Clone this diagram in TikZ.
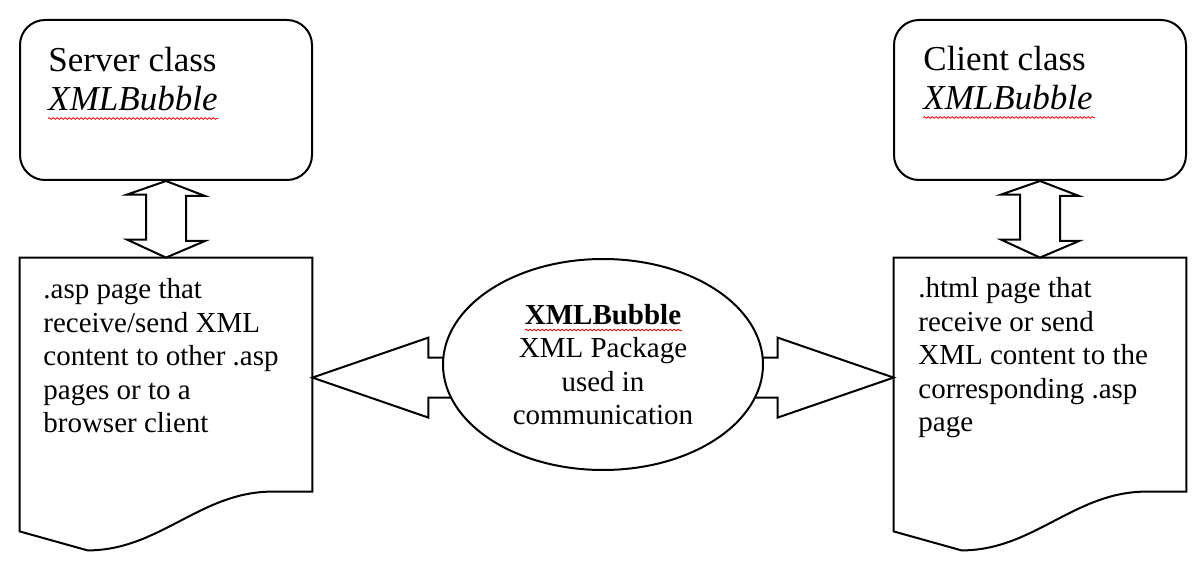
\documentclass[tikz,border=0pt]{standalone}
\usepackage{fontspec}
\setmainfont{Liberation Serif}
\usetikzlibrary{calc,shapes.geometric,decorations.pathmorphing}
\newcommand{\bodysize}{\fontsize{14.5}{16.75}\selectfont}
\newcommand{\titlesize}{\fontsize{17.5}{19.5}\selectfont}
% page outline with the torn bottom edge
\newcommand{\pageoutline}[1]{%
  \draw[frame] (#1.north west) -- (#1.north east) -- ++(0,234) -- ++(-40,0)
    .. controls +(-72,0) and +(72,0) .. ([xshift=34pt]#1.south west)
    -- ([yshift=9.5pt]#1.south west) -- cycle;}

\begin{document}
\begin{tikzpicture}[x=0.5pt,y=-0.5pt,
    frame/.style={draw=black,line width=1pt},
    classbox/.style={frame,rounded corners=12.5pt,minimum width=146pt,minimum height=80pt,inner sep=0pt},
    pagebox/.style={minimum width=146pt,minimum height=146pt,inner sep=0pt},
    blockarrow/.style={frame,fill=white,line join=miter},
    bubble/.style={frame,fill=white,ellipse,minimum width=160pt,minimum height=105.5pt,inner sep=0pt,align=center,font=\bodysize},
    bodytext/.style={anchor=north west,inner sep=0pt,align=left,font=\bodysize},
    titletext/.style={anchor=north west,inner sep=0pt,align=left,font=\titlesize},
    spellmark/.style={draw=red,line width=0.4pt,decorate,decoration={snake,amplitude=0.4pt,segment length=2pt}}]
    \useasboundingbox (0,0) rectangle (1200,577);

    \node[classbox] (srvbox) at (166,100) {};
    \node[classbox] (clibox) at (1040,100) {};
    \node[titletext] (srvtitle) at (48,47) {Server class\\\textit{XMLBubble}};
    \node[titletext] (clititle) at (923,46) {Client class\\\textit{XMLBubble}};

    \node[pagebox] (srvdoc) at (166,404) {};
    \node[pagebox] (clidoc) at (1040,404) {};
    \pageoutline{srvdoc}
    \pageoutline{clidoc}
    \node[bodytext] (srvtext) at (43,278) {.asp page that\\receive/send XML\\content to other .asp\\pages or to a\\browser client};
    \node[bodytext] (clitext) at (918,277) {.html page that\\receive or send\\XML content to the\\corresponding .asp\\page};

    % two-way arrows between class and page
    \draw[blockarrow] (srvbox.south) -- ++(39,15) -- ++(-19,0) -- ++(0,45) -- ++(19,0) -- (srvdoc.north)
      -- ++(-39,-18) -- ++(19,0) -- ++(0,-45) -- ++(-19,0) -- cycle;
    \draw[blockarrow] (clibox.south) -- ++(39,15) -- ++(-19,0) -- ++(0,45) -- ++(19,0) -- (clidoc.north)
      -- ++(-39,-18) -- ++(19,0) -- ++(0,-45) -- ++(-19,0) -- cycle;

    % arrows from the package to the pages
    \coordinate (ltip) at ($(srvdoc.north east)+(0,120)$);
    \coordinate (rtip) at ($(clidoc.north west)+(0,120)$);
    \draw[blockarrow] (ltip) -- ++(116,-40) -- ++(0,20) -- ++(175,0) -- ++(0,40) -- ++(-175,0) -- ++(0,20) -- cycle;
    \draw[blockarrow] (rtip) -- ++(-116,-40) -- ++(0,20) -- ++(-175,0) -- ++(0,40) -- ++(175,0) -- ++(0,20) -- cycle;

    \node[bubble] (bub) at (603,364.5) {\textbf{XMLBubble}\\XML Package\\used in\\communication};

    \draw[spellmark] ([yshift=-3.5pt]srvtitle.south west) -- ++(170,0);
    \draw[spellmark] ([yshift=-3.5pt]clititle.south west) -- ++(172,0);
    \draw[spellmark] (525,330) -- (682,330);
  \end{tikzpicture}
\end{document}
